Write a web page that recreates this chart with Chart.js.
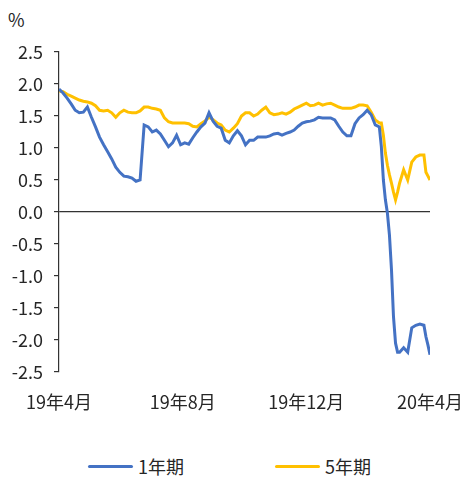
<!DOCTYPE html>
<html>
<head>
<meta charset="utf-8">
<script src="https://cdn.jsdelivr.net/npm/chart.js@4.4.1/dist/chart.umd.min.js"></script>
<style>
  html, body { margin: 0; padding: 0; background: #fff; }
  body { font-family: "Noto Sans CJK SC", "Noto Sans", sans-serif; color: #262626; }
  #wrap { position: relative; width: 463px; height: 479px; }
  #box { position: absolute; left: 0; top: 0; width: 463px; height: 440px; }
  #unit { position: absolute; left: 8px; top: 6px; font-size: 18px; }
  .leg { position: absolute; top: 453px; font-size: 18px; line-height: 26px; display: flex; align-items: center; }
  .leg i { display: inline-block; width: 45px; height: 3px; margin-right: 5px; border-radius: 2px; }
</style>
</head>
<body>
<div id="wrap">
  <div id="unit">%</div>
  <div id="box"><canvas id="chart"></canvas></div>
  <div class="leg" style="left:88px"><i style="background:#4472C4"></i>1年期</div>
  <div class="leg" style="left:275px"><i style="background:#FFC000"></i>5年期</div>
</div>
<script>
// x positions: days since 2019-04-01
const days = [0,4,8,12,16,20,24,28,32,36,40,44,48,52,56,60,64,68,72,76,80,84,88,92,96,100,
  104,108,112,116,120,124,128,132,136,140,144,148,152,156,160,164,168,172,176,180,184,188,192,196,200,
  204,208,212,216,220,224,228,232,236,240,244,248,252,256,260,264,268,272,276,280,284,288,292,296,300,
  304,308,312,316,318,320,322,324,326,328,330,332,334,336,340,344,348,352,356,360,362,364,366];

const tickDays = [0, 122, 244, 366];
const tickLabels = ['19年4月', '19年8月', '19年12月', '20年4月'];

// 1年期
const oneYear = [1.92,1.86,1.78,1.69,1.59,1.55,1.56,1.64,1.48,1.33,1.17,1.05,0.94,0.83,0.70,0.62,0.56,0.55,0.53,0.48,0.50,
  1.36,1.33,1.25,1.28,1.22,1.12,1.02,1.08,1.20,1.05,1.08,1.06,1.16,1.25,1.33,1.39,1.55,1.42,1.34,1.31,
  1.12,1.08,1.19,1.27,1.19,1.05,1.12,1.12,1.17,1.17,1.17,1.19,1.22,1.23,1.20,1.23,1.25,1.28,1.34,1.39,
  1.41,1.42,1.44,1.48,1.47,1.47,1.47,1.44,1.34,1.25,1.19,1.19,1.38,1.47,1.52,1.59,1.52,1.36,1.33,
  1.02,0.50,0.19,-0.02,-0.36,-0.90,-1.64,-2.05,-2.19,-2.19,-2.12,-2.19,-1.81,-1.77,-1.75,-1.77,-1.95,-2.08,-2.23];

// 5年期
const fiveYear = [1.89,1.88,1.84,1.81,1.78,1.75,1.73,1.72,1.70,1.66,1.59,1.58,1.59,1.55,1.48,1.55,1.59,1.56,1.55,1.55,1.58,
  1.64,1.64,1.62,1.61,1.59,1.47,1.41,1.39,1.39,1.39,1.39,1.38,1.34,1.33,1.38,1.42,1.48,1.44,1.39,1.36,
  1.28,1.25,1.31,1.38,1.50,1.55,1.55,1.50,1.53,1.59,1.64,1.55,1.52,1.53,1.55,1.53,1.56,1.61,1.64,1.67,
  1.70,1.66,1.67,1.70,1.67,1.69,1.70,1.67,1.64,1.62,1.62,1.62,1.64,1.67,1.67,1.66,1.56,1.44,1.39,
  1.39,1.20,0.92,0.73,0.58,0.45,0.31,0.19,0.31,0.45,0.66,0.50,0.78,0.86,0.89,0.89,0.62,0.56,0.50];

const axisColor = '#333333';
const tickFont = { family: '"Noto Sans CJK SC", "Noto Sans", sans-serif', size: 18 };

const ctx = document.getElementById('chart').getContext('2d');
const chart = new Chart(ctx, {
  type: 'line',
  data: {
    datasets: [
      { label: '1年期', data: days.map((d, i) => ({ x: d, y: oneYear[i] })), borderColor: '#4472C4', borderWidth: 3, pointRadius: 0, tension: 0 },
      { label: '5年期', data: days.map((d, i) => ({ x: d, y: fiveYear[i] })), borderColor: '#FFC000', borderWidth: 3, pointRadius: 0, tension: 0 }
    ]
  },
  options: {
    responsive: true,
    maintainAspectRatio: false,
    animation: false,
    layout: { padding: { top: 52, right: 33, left: 0, bottom: 0 } },
    plugins: { legend: { display: false }, tooltip: { enabled: false } },
    scales: {
      x: {
        type: 'linear', min: 0, max: 366,
        afterBuildTicks: s => { s.ticks = tickDays.map(v => ({ value: v })); },
        ticks: { callback: v => tickLabels[tickDays.indexOf(v)], autoSkip: false, maxRotation: 0, padding: 19, color: '#262626', font: tickFont },
        grid: { display: false, drawTicks: false },
        border: { display: false },
        // keep the last label from pushing the plot area in
        afterFit: s => { s.height = 68; s.paddingLeft = 0; s.paddingRight = 0; }
      },
      y: {
        min: -2.5, max: 2.5,
        ticks: { stepSize: 0.5, callback: v => v.toFixed(1), padding: 11, color: '#262626', font: tickFont },
        grid: { color: c => c.tick && c.tick.value === 0 ? axisColor : 'rgba(0,0,0,0)', tickColor: axisColor, tickLength: 5, lineWidth: 1.2 },
        border: { color: axisColor, width: 1.2 },
        afterFit: s => { s.width = 59; }
      }
    }
  }
});
</script>
</body>
</html>
